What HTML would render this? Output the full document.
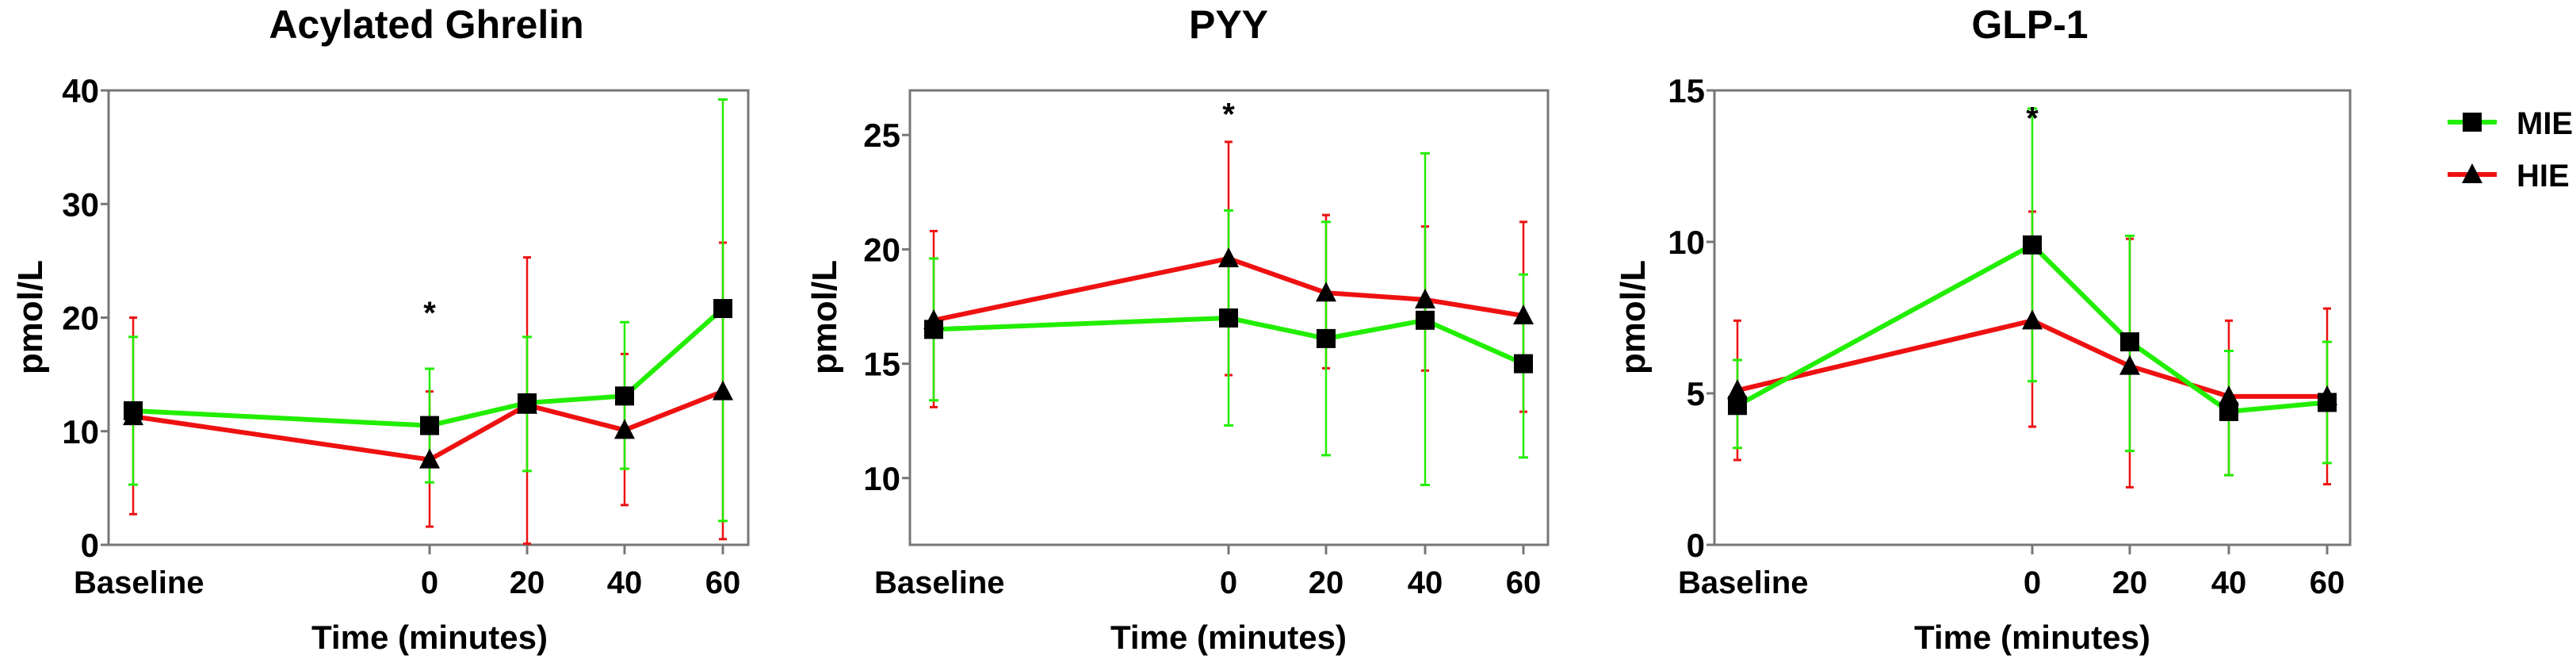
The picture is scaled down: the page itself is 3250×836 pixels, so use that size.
<!DOCTYPE html>
<html><head><meta charset="utf-8"><style>
html,body{margin:0;padding:0;background:#fff;}
svg{display:block;}
text{font-family:"Liberation Sans Narrow","Liberation Sans",sans-serif;font-weight:bold;fill:#000;}
</style></head><body>
<svg id="chart" width="3250" height="836" viewBox="0 0 3250 836" xmlns="http://www.w3.org/2000/svg"></svg>
<script>
const categories = ["Baseline","0","20","40","60"];
const ghrelinMIE = [11.8,10.5,12.5,13.1,20.8];
const ghrelinMIELo = [5.3,5.5,6.5,6.7,2.1];
const ghrelinMIEHi = [18.3,15.5,18.3,19.6,39.2];
const ghrelinHIE = [11.3,7.5,12.3,10.1,13.5];
const ghrelinHIELo = [2.7,1.6,0.1,3.5,0.5];
const ghrelinHIEHi = [20.0,13.5,25.3,16.8,26.6];
const ghrelinTicks = [0,10,20,30,40];
const pyyMIE = [16.5,17.0,16.1,16.9,15.0];
const pyyMIELo = [13.4,12.3,11.0,9.7,10.9];
const pyyMIEHi = [19.6,21.7,21.2,24.2,18.9];
const pyyHIE = [16.9,19.6,18.1,17.8,17.1];
const pyyHIELo = [13.1,14.5,14.8,14.7,12.9];
const pyyHIEHi = [20.8,24.7,21.5,21.0,21.2];
const pyyTicks = [10,15,20,25];
const glpMIE = [4.6,9.9,6.7,4.4,4.7];
const glpMIELo = [3.2,5.4,3.1,2.3,2.7];
const glpMIEHi = [6.1,14.4,10.2,6.4,6.7];
const glpHIE = [5.1,7.4,5.9,4.9,4.9];
const glpHIELo = [2.8,3.9,1.9,2.3,2.0];
const glpHIEHi = [7.4,11.0,10.1,7.4,7.8];
const glpTicks = [0,5,10,15];
const starValues = [21,26.2,14.3];

const NS="http://www.w3.org/2000/svg";
const svg=document.getElementById('chart');
function mk(tag,attrs,parent){const e=document.createElementNS(NS,tag);for(const k in attrs)e.setAttribute(k,attrs[k]);(parent||svg).appendChild(e);return e;}
const GREEN="#22ee00", RED="#ee1111";

const panels=[
 {name:"acylated-ghrelin",title:"Acylated Ghrelin",left:137,right:944,titleX:538,xs:[168,542,665,788,912],dmin:0,dmax:40,ticks:ghrelinTicks,
  mie:ghrelinMIE,mieLo:ghrelinMIELo,mieHi:ghrelinMIEHi,hie:ghrelinHIE,hieLo:ghrelinHIELo,hieHi:ghrelinHIEHi,star:starValues[0],ylx:38},
 {name:"pyy",title:"PYY",left:1148,right:1953,titleX:1550,xs:[1178,1550,1673,1798,1922],dmin:7.08,dmax:26.95,ticks:pyyTicks,
  mie:pyyMIE,mieLo:pyyMIELo,mieHi:pyyMIEHi,hie:pyyHIE,hieLo:pyyHIELo,hieHi:pyyHIEHi,star:starValues[1],ylx:1040},
 {name:"glp-1",title:"GLP-1",left:2163,right:2965,titleX:2561,xs:[2192,2564,2687,2812,2936],dmin:0,dmax:15,ticks:glpTicks,
  mie:glpMIE,mieLo:glpMIELo,mieHi:glpMIEHi,hie:glpHIE,hieLo:glpHIELo,hieHi:glpHIEHi,star:starValues[2],ylx:2060}
];
const TOP=114,BOT=687;

panels.forEach(p=>{
  const g=mk('g',{});
  
  
  const y=v=>BOT-(v-p.dmin)/(p.dmax-p.dmin)*(BOT-TOP);
  const t=mk('text',{x:p.titleX,y:48,'text-anchor':'middle','font-size':50},g);t.textContent=p.title;
  
  const fr=mk('rect',{x:p.left,y:TOP,width:p.right-p.left,height:BOT-TOP,fill:'none',stroke:'#777','stroke-width':3},g);
  
  p.ticks.forEach(v=>{
    mk('line',{x1:p.left-10,x2:p.left,y1:y(v),y2:y(v),stroke:'#777','stroke-width':3},g);
    const tl=mk('text',{x:p.left-12,y:y(v)+15,'text-anchor':'end','font-size':42},g);tl.textContent=v;
    
  });
  categories.forEach((c,i)=>{
    if(i>0) mk('line',{x1:p.xs[i],x2:p.xs[i],y1:BOT,y2:BOT+12,stroke:'#777','stroke-width':3},g);
    const tl=mk('text',{x:i==0?p.xs[i]-75:p.xs[i],y:748,'text-anchor':i==0?'start':'middle','font-size':40},g);tl.textContent=c;
    
  });
  const xt=mk('text',{x:(p.xs[1]),y:818,'text-anchor':'middle','font-size':42},g);xt.textContent="Time (minutes)";
  
  const yt=mk('text',{x:0,y:0,'text-anchor':'middle','font-size':44,transform:`translate(${p.ylx+15},400) rotate(-90)`},g);yt.textContent="pmol/L";
  
  // error bars
  [[p.hieLo,p.hieHi,RED,10],[p.mieLo,p.mieHi,GREEN,12]].forEach(([lo,hi,col,cw])=>{
    lo.forEach((l,i)=>{
      const x=p.xs[i];
      const eb=mk('g',{},g);
      
      mk('line',{x1:x,x2:x,y1:y(l),y2:y(hi[i]),stroke:col,'stroke-width':2.5},eb);
      mk('line',{x1:x-cw/2,x2:x+cw/2,y1:y(l),y2:y(l),stroke:col,'stroke-width':3},eb);
      mk('line',{x1:x-cw/2,x2:x+cw/2,y1:y(hi[i]),y2:y(hi[i]),stroke:col,'stroke-width':3},eb);
    });
  });
  // lines
  const hl=mk('polyline',{points:p.hie.map((v,i)=>p.xs[i]+','+y(v)).join(' '),fill:'none',stroke:RED,'stroke-width':6},g);
  
  const ml=mk('polyline',{points:p.mie.map((v,i)=>p.xs[i]+','+y(v)).join(' '),fill:'none',stroke:GREEN,'stroke-width':6},g);
  
  p.hie.forEach((v,i)=>{
    const x=p.xs[i],yy=y(v);
    const tr=mk('polygon',{points:`${x},${yy-14} ${x-13},${yy+11} ${x+13},${yy+11}`,fill:'#000'},g);
    
  });
  p.mie.forEach((v,i)=>{
    const x=p.xs[i],yy=y(v);
    const sq=mk('rect',{x:x-12,y:yy-12,width:24,height:24,fill:'#000'},g);
    
  });
  const st=mk('text',{x:p.xs[1],y:y(p.star)+22,'text-anchor':'middle','font-size':40},g);st.textContent="*";
  
});
// legend
const lg=mk('g',{});


[["MIE",GREEN,154,'sq'],["HIE",RED,220,'tri']].forEach(([lab,col,yy,m])=>{
  const e=mk('g',{},lg);
  
  
  mk('line',{x1:3088,x2:3150,y1:yy,y2:yy,stroke:col,'stroke-width':6},e);
  if(m=='sq') mk('rect',{x:3107,y:yy-12,width:24,height:24,fill:'#000'},e);
  else mk('polygon',{points:`3119,${yy-14} 3106,${yy+11} 3132,${yy+11}`,fill:'#000'},e);
  const t=mk('text',{x:3175,y:yy+15,'font-size':40,'font-weight':'normal'},e);t.textContent=lab;
});
</script>
</body></html>
